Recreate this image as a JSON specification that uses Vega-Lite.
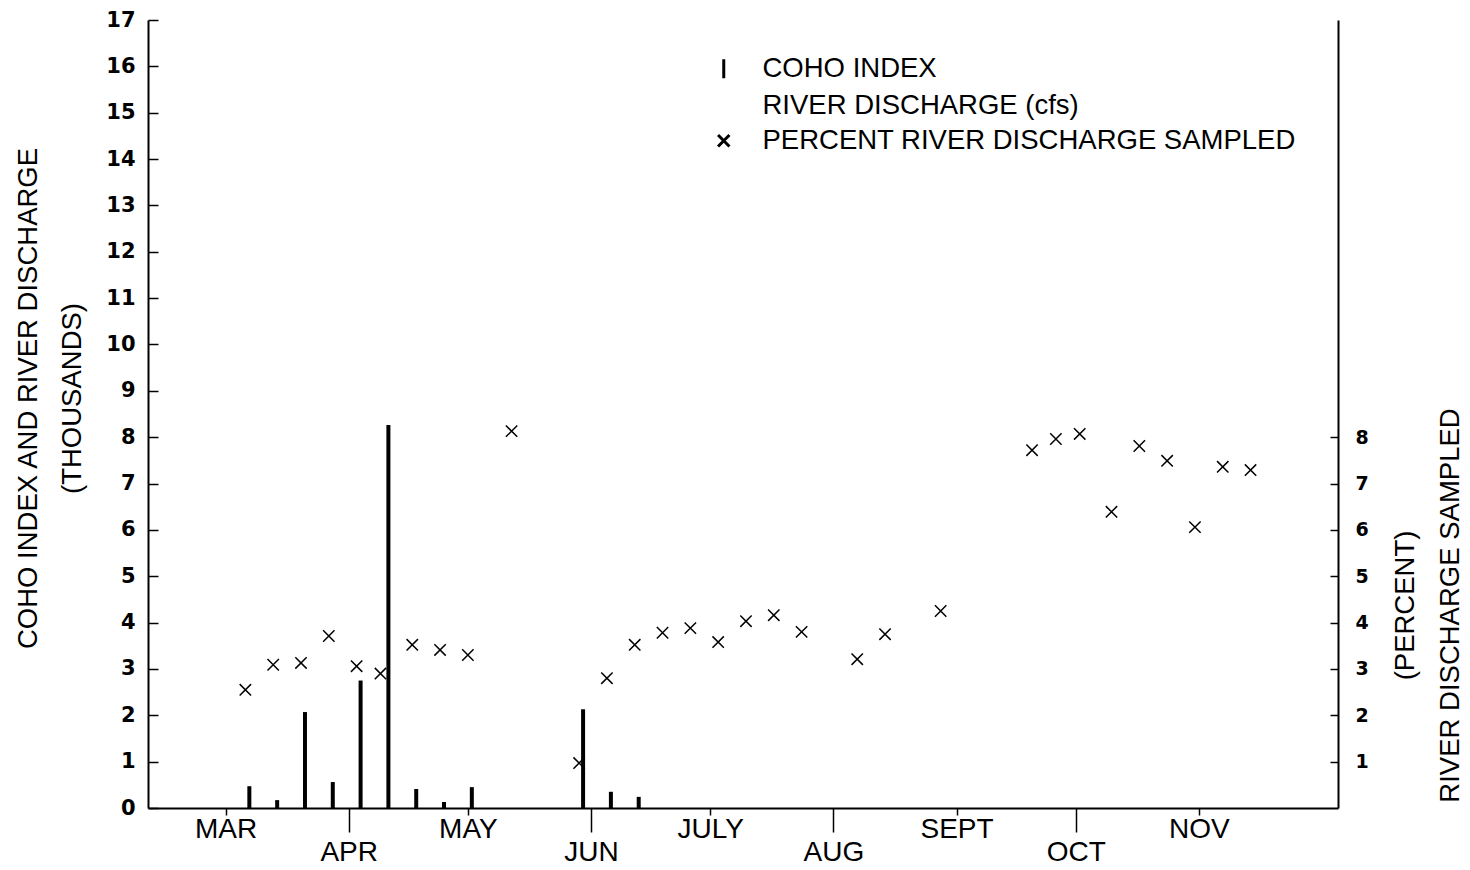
{
  "$schema": "https://vega.github.io/schema/vega-lite/v6.json",
  "width": 1190,
  "height": 788,
  "autosize": "none",
  "padding": {"left": 148, "top": 20, "right": 132, "bottom": 62},
  "background": "white",
  "config": {
    "view": {"stroke": null},
    "font": "Liberation Sans",
    "axis": {
      "labelFont": "Liberation Sans",
      "titleFont": "Liberation Sans",
      "labelColor": "black",
      "titleColor": "black",
      "domainColor": "black",
      "tickColor": "black",
      "grid": false,
      "titleFontWeight": "normal"
    },
    "legend": {
      "labelFont": "Liberation Sans"
    }
  },
  "encoding": {
    "x": {
      "field": "date",
      "type": "temporal",
      "scale": {
        "type": "utc",
        "domain": [
          {"year": 1985, "month": 2, "date": 10, "hours": 18, "utc": true},
          {"year": 1985, "month": 12, "date": 4, "hours": 18, "utc": true}
        ]
      },
      "axis": {
        "title": null,
        "values": [
          {"year": 1985, "month": 3, "date": 1, "utc": true},
          {"year": 1985, "month": 4, "date": 1, "utc": true},
          {"year": 1985, "month": 5, "date": 1, "utc": true},
          {"year": 1985, "month": 6, "date": 1, "utc": true},
          {"year": 1985, "month": 7, "date": 1, "utc": true},
          {"year": 1985, "month": 8, "date": 1, "utc": true},
          {"year": 1985, "month": 9, "date": 1, "utc": true},
          {"year": 1985, "month": 10, "date": 1, "utc": true},
          {"year": 1985, "month": 11, "date": 1, "utc": true}
        ],
        "labelExpr": "utcmonth(datum.value) % 2 === 1 ? ['', ['JAN','FEB','MAR','APR','MAY','JUN','JULY','AUG','SEPT','OCT','NOV','DEC'][utcmonth(datum.value)]] : ['JAN','FEB','MAR','APR','MAY','JUN','JULY','AUG','SEPT','OCT','NOV','DEC'][utcmonth(datum.value)]",
        "labelFontSize": 28,
        "labelLineHeight": 6,
        "labelOverlap": false,
        "labelBound": false,
        "labelFlush": false,
        "labelPadding": 0,
        "tickSize": {"condition": {"test": "utcmonth(datum.value) % 2 === 1", "value": 24}, "value": 7},
        "tickWidth": 1.5,
        "domainWidth": 2
      }
    }
  },
  "layer": [
    {
      "data": {
        "values": [
          {"date": "1985-03-07", "coho_thousands": 0.47},
          {"date": "1985-03-14", "coho_thousands": 0.17},
          {"date": "1985-03-21", "coho_thousands": 2.07},
          {"date": "1985-03-28", "coho_thousands": 0.56},
          {"date": "1985-04-04", "coho_thousands": 2.75},
          {"date": "1985-04-11", "coho_thousands": 8.26},
          {"date": "1985-04-18", "coho_thousands": 0.41},
          {"date": "1985-04-25", "coho_thousands": 0.13},
          {"date": "1985-05-02", "coho_thousands": 0.45},
          {"date": "1985-05-30", "coho_thousands": 2.13},
          {"date": "1985-06-06", "coho_thousands": 0.35},
          {"date": "1985-06-13", "coho_thousands": 0.24}
        ]
      },
      "mark": {"type": "bar", "width": 4, "color": "black"},
      "encoding": {
        "y": {
          "field": "coho_thousands",
          "type": "quantitative",
          "scale": {"domain": [0, 17], "nice": false, "zero": true},
          "axis": {
            "orient": "left",
            "values": [0,1,2,3,4,5,6,7,8,9,10,11,12,13,14,15,16,17],
            "title": ["COHO INDEX AND RIVER DISCHARGE", "(THOUSANDS)"],
            "titleFontSize": 27.5,
            "titleLineHeight": 44,
            "titleAngle": 270,
            "titleBaseline": "middle",
            "titleAlign": "center",
            "titleX": -120,
            "titleY": 378,
            "labelFont": "DejaVu Sans",
            "labelFontSize": 21,
            "labelFontWeight": "bold",
            "labelPadding": 23,
            "tickSize": -10,
            "tickWidth": 1.5,
            "domainWidth": 2
          }
        }
      }
    },
    {
      "data": {
        "values": [
          {"date": "1985-03-06", "percent_sampled": 2.55, "series": "PERCENT RIVER DISCHARGE SAMPLED"},
          {"date": "1985-03-13", "percent_sampled": 3.09, "series": "PERCENT RIVER DISCHARGE SAMPLED"},
          {"date": "1985-03-20", "percent_sampled": 3.13, "series": "PERCENT RIVER DISCHARGE SAMPLED"},
          {"date": "1985-03-27", "percent_sampled": 3.71, "series": "PERCENT RIVER DISCHARGE SAMPLED"},
          {"date": "1985-04-03", "percent_sampled": 3.06, "series": "PERCENT RIVER DISCHARGE SAMPLED"},
          {"date": "1985-04-09", "percent_sampled": 2.9, "series": "PERCENT RIVER DISCHARGE SAMPLED"},
          {"date": "1985-04-17", "percent_sampled": 3.52, "series": "PERCENT RIVER DISCHARGE SAMPLED"},
          {"date": "1985-04-24", "percent_sampled": 3.41, "series": "PERCENT RIVER DISCHARGE SAMPLED"},
          {"date": "1985-05-01", "percent_sampled": 3.3, "series": "PERCENT RIVER DISCHARGE SAMPLED"},
          {"date": "1985-05-12", "percent_sampled": 8.13, "series": "PERCENT RIVER DISCHARGE SAMPLED"},
          {"date": "1985-05-29", "percent_sampled": 0.97, "series": "PERCENT RIVER DISCHARGE SAMPLED"},
          {"date": "1985-06-05", "percent_sampled": 2.8, "series": "PERCENT RIVER DISCHARGE SAMPLED"},
          {"date": "1985-06-12", "percent_sampled": 3.52, "series": "PERCENT RIVER DISCHARGE SAMPLED"},
          {"date": "1985-06-19", "percent_sampled": 3.78, "series": "PERCENT RIVER DISCHARGE SAMPLED"},
          {"date": "1985-06-26", "percent_sampled": 3.88, "series": "PERCENT RIVER DISCHARGE SAMPLED"},
          {"date": "1985-07-03", "percent_sampled": 3.58, "series": "PERCENT RIVER DISCHARGE SAMPLED"},
          {"date": "1985-07-10", "percent_sampled": 4.03, "series": "PERCENT RIVER DISCHARGE SAMPLED"},
          {"date": "1985-07-17", "percent_sampled": 4.16, "series": "PERCENT RIVER DISCHARGE SAMPLED"},
          {"date": "1985-07-24", "percent_sampled": 3.8, "series": "PERCENT RIVER DISCHARGE SAMPLED"},
          {"date": "1985-08-07", "percent_sampled": 3.21, "series": "PERCENT RIVER DISCHARGE SAMPLED"},
          {"date": "1985-08-14", "percent_sampled": 3.75, "series": "PERCENT RIVER DISCHARGE SAMPLED"},
          {"date": "1985-08-28", "percent_sampled": 4.25, "series": "PERCENT RIVER DISCHARGE SAMPLED"},
          {"date": "1985-09-20", "percent_sampled": 7.72, "series": "PERCENT RIVER DISCHARGE SAMPLED"},
          {"date": "1985-09-26", "percent_sampled": 7.96, "series": "PERCENT RIVER DISCHARGE SAMPLED"},
          {"date": "1985-10-02", "percent_sampled": 8.07, "series": "PERCENT RIVER DISCHARGE SAMPLED"},
          {"date": "1985-10-10", "percent_sampled": 6.39, "series": "PERCENT RIVER DISCHARGE SAMPLED"},
          {"date": "1985-10-17", "percent_sampled": 7.81, "series": "PERCENT RIVER DISCHARGE SAMPLED"},
          {"date": "1985-10-24", "percent_sampled": 7.49, "series": "PERCENT RIVER DISCHARGE SAMPLED"},
          {"date": "1985-10-31", "percent_sampled": 6.06, "series": "PERCENT RIVER DISCHARGE SAMPLED"},
          {"date": "1985-11-07", "percent_sampled": 7.36, "series": "PERCENT RIVER DISCHARGE SAMPLED"},
          {"date": "1985-11-14", "percent_sampled": 7.29, "series": "PERCENT RIVER DISCHARGE SAMPLED"}
        ]
      },
      "mark": {"type": "point", "filled": false, "stroke": "black", "strokeWidth": 1.5, "size": 360, "opacity": 1},
      "encoding": {
        "y": {
          "field": "percent_sampled",
          "type": "quantitative",
          "scale": {"domain": [0, 17], "nice": false, "zero": true},
          "axis": {
            "orient": "right",
            "values": [1,2,3,4,5,6,7,8],
            "title": ["(PERCENT)", "RIVER DISCHARGE SAMPLED"],
            "titleFontSize": 27.5,
            "titleLineHeight": 45,
            "titleAngle": 270,
            "titleBaseline": "middle",
            "titleAlign": "center",
            "titleX": 67,
            "titleY": 585,
            "labelFont": "DejaVu Sans",
            "labelFontSize": 19,
            "labelFontWeight": "bold",
            "labelPadding": 25,
            "labelAlign": "left",
            "tickSize": -8,
            "tickWidth": 1.5,
            "domainWidth": 2
          }
        },
        "shape": {
          "field": "series",
          "type": "nominal",
          "scale": {
            "domain": ["COHO INDEX", "RIVER DISCHARGE (cfs)", "PERCENT RIVER DISCHARGE SAMPLED"],
            "range": ["M0,-1L0,1", "M0,0", "M-0.6,-0.6L0.6,0.6M-0.6,0.6L0.6,-0.6"]
          },
          "legend": {
            "title": null,
            "orient": "none",
            "legendX": 562,
            "legendY": 35,
            "padding": 0,
            "labelFontSize": 27.5,
            "labelColor": "black",
            "labelLimit": 800,
            "labelOffset": 25,
            "rowPadding": 6,
            "symbolSize": 360,
            "symbolStrokeColor": "black",
            "symbolStrokeWidth": 3,
            "symbolFillColor": "transparent"
          }
        }
      }
    }
  ],
  "resolve": {"axis": {"y": "independent"}, "scale": {"y": "shared"}}
}
